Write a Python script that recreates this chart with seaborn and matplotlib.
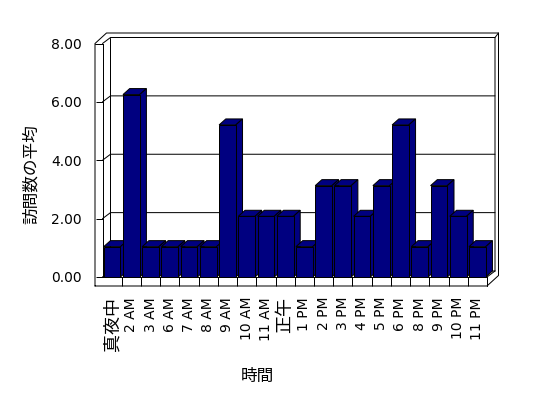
import numpy as np
import pandas as pd
import matplotlib
matplotlib.use("Agg")
import matplotlib.pyplot as plt
import matplotlib.transforms as mtransforms
from matplotlib.lines import Line2D
from matplotlib.patches import Polygon
import seaborn as sns

# ---- data ----
categories = ['真夜中', '2 AM', '3 AM', '6 AM', '7 AM', '8 AM', '9 AM', '10 AM', '11 AM', '正午',
              '1 PM', '2 PM', '3 PM', '4 PM', '5 PM', '6 PM', '8 PM', '9 PM', '10 PM', '11 PM']
values = [1.04, 6.25, 1.04, 1.04, 1.04, 1.04, 5.21, 2.08, 2.08, 2.08,
          1.04, 3.13, 3.13, 2.08, 3.13, 5.21, 1.04, 3.13, 2.08, 1.04]
y_ticks = [0, 2, 4, 6, 8]
y_tick_labels = ['0.00', '2.00', '4.00', '6.00', '8.00']
x_title = '時間'
y_title = '訪問数の平均'

sns.set_style('white')
plt.rcParams['font.family'] = ['DejaVu Sans', 'Noto Sans CJK JP']

W, H = 548, 398
fig = plt.figure(figsize=(W / 100, H / 100), dpi=100)
fig.patch.set_facecolor('white')

# front plane of the plot in pixels (from top-left)
L_px, R_px, B_px, T_px = 102.5, 487.0, 277.0, 43.5
ax = fig.add_axes([L_px / W, (H - B_px) / H, (R_px - L_px) / W, (B_px - T_px) / H])
ax.set_facecolor('none')

NAVY = '#000080'
LW = 0.72  # 1 px

df = pd.DataFrame({'cat': categories, 'val': values})
sns.barplot(data=df, x='cat', y='val', color=NAVY, saturation=1, edgecolor='black',
            linewidth=LW, width=0.87, ax=ax)

ax.set_xlim(-0.5, len(categories) - 0.5)
ax.set_ylim(0, 8)
ax.set_xlabel('')
ax.set_ylabel('')
ax.set_yticks(y_ticks)
ax.set_yticklabels(y_tick_labels)
ax.set_xticks(range(len(categories)))
ax.set_xticklabels(categories, rotation=90)
ax.set_xticks(np.arange(0.5, len(categories), 1.0), minor=True)
ax.tick_params(axis='y', which='major', direction='out', length=7.5 * LW, width=LW,
               color='black', pad=13 * LW, labelsize=10, labelcolor='black', left=True)
ax.tick_params(axis='x', which='major', length=0, pad=20 * LW, labelsize=10, labelcolor='black',
               bottom=True)
ax.tick_params(axis='x', which='minor', direction='out', length=9 * LW, width=LW,
               color='black', bottom=True)
for lbl in ax.get_xticklabels():
    if not lbl.get_text().isascii():
        lbl.set_fontsize(13)
for s in ['top', 'right']:
    ax.spines[s].set_visible(False)
for s in ['left', 'bottom']:
    ax.spines[s].set_color('black')
    ax.spines[s].set_linewidth(LW)
ax.grid(False)

# pixel transform (y up, origin bottom-left)
pxT = mtransforms.Affine2D().scale(1.0 / W, 1.0 / H) + fig.transFigure
d2f = ax.transData + fig.transFigure.inverted()


def to_px(x, y):
    fx, fy = d2f.transform((x, y))
    return fx * W, fy * H


x0d, x1d = ax.get_xlim()
L, B = to_px(x0d, 0)
R, T = to_px(x1d, 8)
Dx, Dy = 8.0, 6.0      # depth of plot box
Ex, Ey = 3.5, 4.5      # back-wall thickness
w, f = 7.5, 9.0        # left wall / floor front thickness


def line(pts, z=0.5):
    xs, ys = zip(*pts)
    ax.add_line(Line2D(xs, ys, transform=pxT, color='black', lw=LW, clip_on=False, zorder=z))


# outer silhouette
line([(L - w, B - f), (L - w, T), (L - w + Dx + Ex, T + Dy + Ey), (R + Dx + Ex, T + Dy + Ey),
      (R + Dx + Ex, B - f + Dy + Ey), (R, B - f), (L - w, B - f)])
# left wall top front edge
line([(L - w, T), (L, T)])
# inner diagonal top-left and back wall top edge
line([(L, T), (L + Dx, T + Dy), (R + Dx, T + Dy), (R + Dx, B + Dy)])
line([(R + Dx, T + Dy), (R + Dx + Ex, T + Dy + Ey)])
# back wall left edge
line([(L + Dx, T + Dy), (L + Dx, B + Dy)])
# floor back edge and right side
line([(L, B), (L + Dx, B + Dy), (R + Dx, B + Dy)])
line([(R, B), (R + Dx, B + Dy)])
line([(R, B), (R, B - f)])
# gridlines
for v in y_ticks[1:-1]:
    _, yv = to_px(0, v)
    line([(L, yv), (L + Dx, yv + Dy), (R + Dx, yv + Dy)])

# 3D faces of bars
bdx, bdy = 6.7, 6.0
for i, p in enumerate(ax.patches):
    xa = p.get_x()
    xb = xa + p.get_width()
    h = p.get_height()
    xl, yt = to_px(xa, h)
    xr, yb = to_px(xb, 0)
    base = 3 + i * 0.1
    p.set_zorder(base + 0.05)
    top = Polygon([(xl, yt), (xr, yt), (xr + bdx, yt + bdy), (xl + bdx, yt + bdy)], closed=True,
                  facecolor=NAVY, edgecolor='black', lw=LW, transform=pxT, clip_on=False,
                  zorder=base + 0.02)
    side = Polygon([(xr, yb), (xr, yt), (xr + bdx, yt + bdy), (xr + bdx, yb + bdy)], closed=True,
                   facecolor=NAVY, edgecolor='black', lw=LW, transform=pxT, clip_on=False,
                   zorder=base + 0.02)
    ax.add_patch(top)
    ax.add_patch(side)

fig.text(31 / W, 1 - 174 / H, y_title, rotation=90, ha='center', va='center', fontsize=12,
         color='black')
fig.text(257 / W, 1 - 376 / H, x_title, ha='center', va='center', fontsize=12, color='black')

fig.savefig('out.png', dpi=100, facecolor='white')
